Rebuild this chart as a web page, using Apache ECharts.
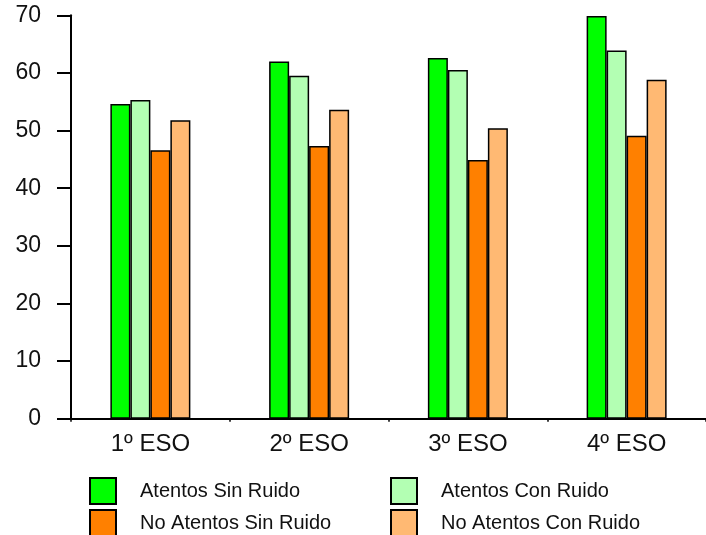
<!DOCTYPE html>
<html>
<head>
<meta charset="utf-8">
<style>
  html, body { margin: 0; padding: 0; background: #fff; }
  #chart { width: 706px; height: 535px; }
</style>
<script src="https://cdn.jsdelivr.net/npm/echarts@6/dist/echarts.min.js"></script>
</head>
<body>
<div id="chart"></div>
<script>
// Course levels on the x axis
const categories = ['1º ESO', '2º ESO', '3º ESO', '4º ESO'];

// Series names and values per course
const seriesNames = ['Atentos Sin Ruido', 'Atentos Con Ruido', 'No Atentos Sin Ruido', 'No Atentos Con Ruido'];
const atentosSinRuido = [54.6, 62.0, 62.6, 69.9];
const atentosConRuido = [55.3, 59.5, 60.5, 63.9];
const noAtentosSinRuido = [46.6, 47.3, 44.9, 49.1];
const noAtentosConRuido = [51.8, 53.6, 50.4, 58.8];

// Y axis range
const yMin = 0;
const yMax = 70;
const yStep = 10;

const colors = ['#00ff00', '#b3ffb3', '#ff8000', '#ffb973'];
const values = [atentosSinRuido, atentosConRuido, noAtentosSinRuido, noAtentosConRuido];
const FONT = '"Liberation Sans", Arial, sans-serif';

const chart = echarts.init(document.getElementById('chart'), null, { renderer: 'canvas' });

// Legend laid out as a 2x2 block: one legend entry per cell
const legendCells = [
  { name: seriesNames[0], left: 89, top: 477 },
  { name: seriesNames[1], left: 390, top: 477 },
  { name: seriesNames[2], left: 89, top: 509 },
  { name: seriesNames[3], left: 390, top: 509 }
];

chart.setOption({
  animation: false,
  backgroundColor: '#fff',
  grid: { left: 71, right: -4, top: 15.3, bottom: 116.3 },
  legend: legendCells.map(c => ({
    data: [c.name],
    left: c.left,
    top: c.top,
    padding: 0,
    itemWidth: 26,
    itemHeight: 26,
    icon: 'rect',
    itemStyle: { borderColor: '#000', borderWidth: 2 },
    textStyle: { fontFamily: FONT, fontSize: 20, color: '#111', padding: [2, 0, 0, 19] },
    selectedMode: false
  })),
  xAxis: {
    type: 'category',
    data: categories,
    axisLine: { lineStyle: { color: '#000', width: 2 } },
    axisTick: { show: true, length: 3, lineStyle: { color: '#000', width: 1.5 } },
    axisLabel: { fontFamily: FONT, fontSize: 24, color: '#111', margin: 14 }
  },
  yAxis: {
    type: 'value',
    min: yMin,
    max: yMax,
    interval: yStep,
    splitLine: { show: false },
    axisLine: { show: true, lineStyle: { color: '#000', width: 2 } },
    axisTick: { show: true, length: 14, lineStyle: { color: '#000', width: 2 } },
    axisLabel: { fontFamily: FONT, fontSize: 23, color: '#111', margin: 30 }
  },
  series: seriesNames.map((name, i) => ({
    name: name,
    type: 'bar',
    data: values[i],
    barWidth: 20,
    barGap: '0%',
    itemStyle: { color: colors[i], borderColor: '#000', borderWidth: 1.5 }
  }))
});
</script>
</body>
</html>
